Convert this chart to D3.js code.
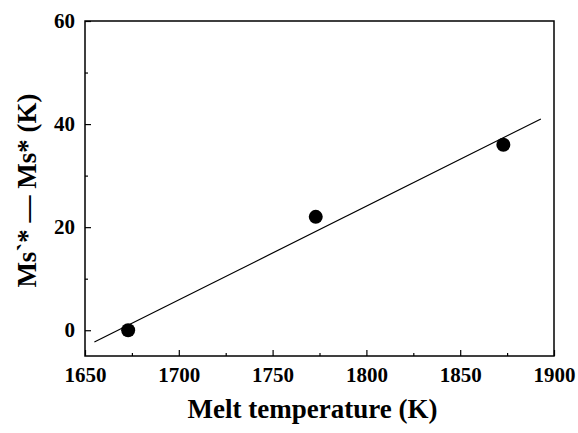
<!DOCTYPE html>
<html>
<head>
<meta charset="utf-8">
<script src="https://cdn.jsdelivr.net/npm/d3@7"></script>
<style>
  body { margin: 0; background: #fff; }
  text { font-family: "Liberation Serif", "Times New Roman", serif; font-weight: bold; }
</style>
</head>
<body>
<div id="chart"></div>
<script>
// measured points
var meltTemp = [1673, 1773, 1873];
var msDiff = [0, 22, 36];
// linear fit drawn as a line
var fitX = [1655, 1893];
var fitY = [-2.3, 41];

var xTicks = [1650, 1700, 1750, 1800, 1850, 1900];
var xMinor = [1675, 1725, 1775, 1825, 1875];
var yTicks = [0, 20, 40, 60];
var yMinor = [10, 30, 50];

var margin = {top: 21, right: 24, bottom: 77, left: 85},
    width = 578 - margin.left - margin.right,
    height = 433 - margin.top - margin.bottom;

var svg = d3.select("#chart")
  .append("svg")
  .attr("width", 578)
  .attr("height", 433)
  .append("g")
  .attr("transform", "translate(" + margin.left + "," + margin.top + ")");

var x = d3.scaleLinear().domain([1650, 1900]).range([0, width]);
var y = d3.scaleLinear().domain([-5, 60]).range([height, 0]);

// frame
svg.append("rect")
  .attr("width", width).attr("height", height)
  .attr("fill", "none").attr("stroke", "#000").attr("stroke-width", 1.5);

// x axis (ticks inward)
var xAxis = svg.append("g")
  .attr("transform", "translate(0," + height + ")")
  .call(d3.axisBottom(x).tickValues(xTicks).tickFormat(d3.format("d"))
    .tickSizeInner(-6).tickSizeOuter(0).tickPadding(11));
xAxis.select(".domain").remove();
xAxis.selectAll("text").attr("font-size", 21).attr("fill", "#000");
svg.append("g")
  .attr("transform", "translate(0," + height + ")")
  .call(d3.axisBottom(x).tickValues(xMinor).tickSizeInner(-3).tickSizeOuter(0).tickFormat(""))
  .select(".domain").remove();

// y axis
var yAxis = svg.append("g")
  .call(d3.axisLeft(y).tickValues(yTicks).tickSizeInner(-6).tickSizeOuter(0).tickPadding(10));
yAxis.select(".domain").remove();
yAxis.selectAll("text").attr("font-size", 21).attr("fill", "#000");
svg.append("g")
  .call(d3.axisLeft(y).tickValues(yMinor).tickSizeInner(-3).tickSizeOuter(0).tickFormat(""))
  .select(".domain").remove();

svg.selectAll(".tick line").attr("stroke", "#000").attr("stroke-width", 1.2);

// fit line
svg.append("line")
  .attr("x1", x(fitX[0])).attr("y1", y(fitY[0]))
  .attr("x2", x(fitX[1])).attr("y2", y(fitY[1]))
  .attr("stroke", "#000").attr("stroke-width", 1.2);

// points
svg.selectAll("circle.pt")
  .data(meltTemp)
  .enter()
  .append("circle")
  .attr("class", "pt")
  .attr("cx", function(d) { return x(d); })
  .attr("cy", function(d, i) { return y(msDiff[i]); })
  .attr("r", 7)
  .attr("fill", "#000");

// axis titles
svg.append("text")
  .attr("x", width / 2 - 7)
  .attr("y", height + 62)
  .attr("text-anchor", "middle")
  .attr("font-size", 27)
  .text("Melt temperature (K)");

svg.append("text")
  .attr("transform", "translate(" + (-margin.left + 36) + "," + (height / 2 + 2) + ")rotate(-90)")
  .attr("text-anchor", "middle")
  .attr("font-size", 27)
  .text("Ms`* \u2014 Ms* (K)");
</script>
</body>
</html>
